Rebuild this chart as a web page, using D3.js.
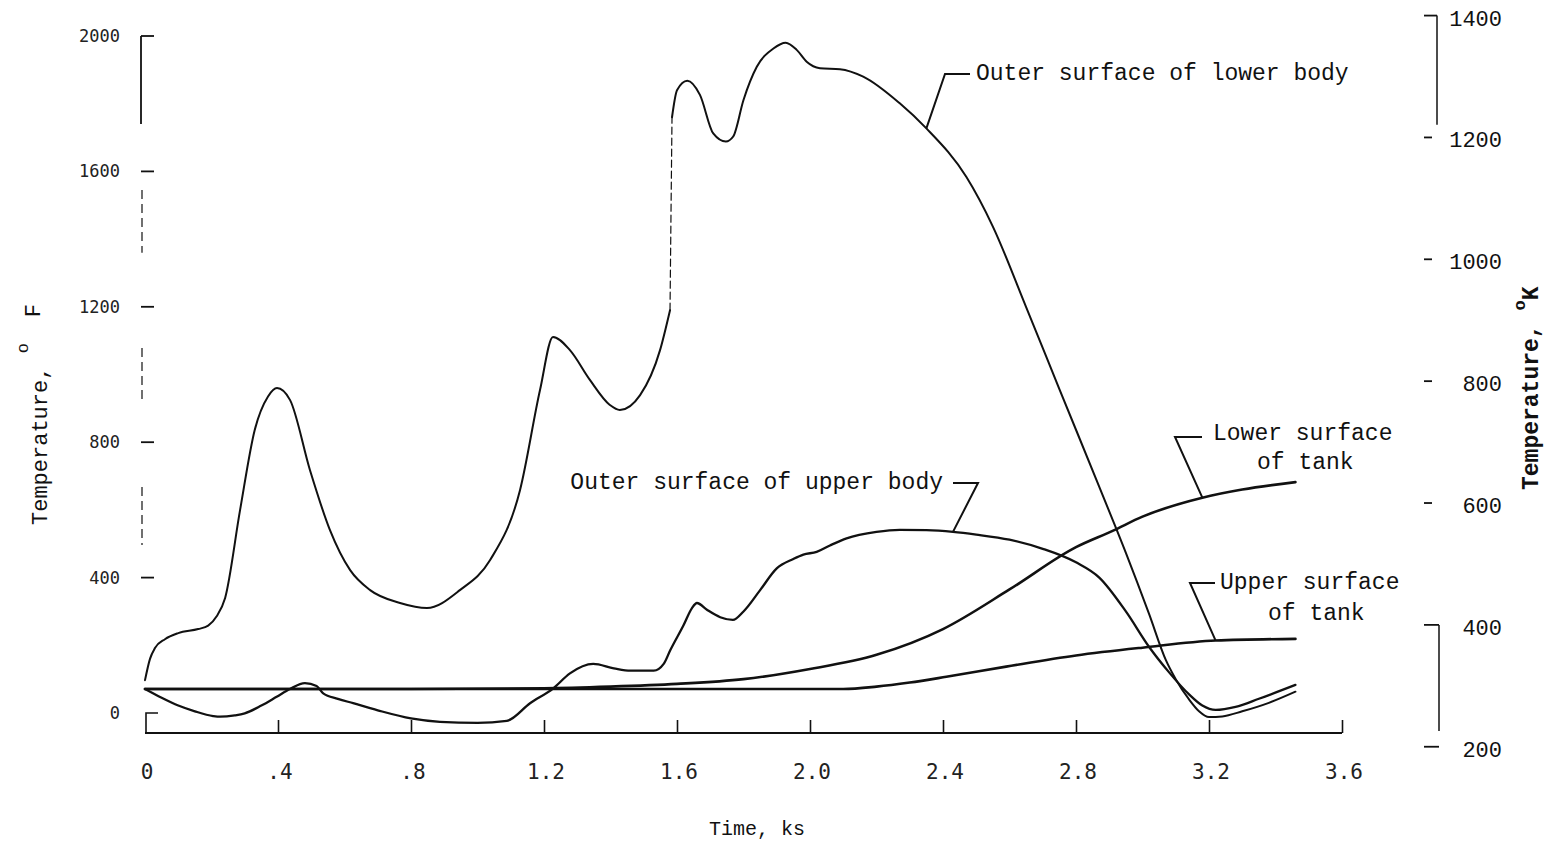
<!DOCTYPE html>
<html>
<head>
<meta charset="utf-8">
<script src="https://cdn.jsdelivr.net/npm/d3@7/dist/d3.min.js"></script>
<style>
  html, body { margin: 0; padding: 0; background: #fff; }
  svg { display: block; }
</style>
</head>
<body>
<svg id="chart" width="1552" height="846"></svg>
<script>
// Axis ticks
const timeTicks = [0, 0.4, 0.8, 1.2, 1.6, 2.0, 2.4, 2.8, 3.2, 3.6];
const timeTickLabels = ["0", ".4", ".8", "1.2", "1.6", "2.0", "2.4", "2.8", "3.2", "3.6"];
const fahrenheitTicks = [0, 400, 800, 1200, 1600, 2000];
const kelvinTicks = [200, 400, 600, 800, 1000, 1200, 1400];

// Temperature histories: [time (ks), temperature (°F)]
const outerLowerBody = [
  [0, 97], [0.015, 160], [0.03, 192], [0.06, 218], [0.10, 236], [0.16, 248], [0.19, 258],
  [0.215, 285], [0.241, 340], [0.286, 600], [0.33, 836], [0.37, 935], [0.397, 960],
  [0.436, 925], [0.496, 718], [0.556, 541], [0.617, 422], [0.677, 363], [0.767, 325],
  [0.848, 310], [0.947, 363], [1.038, 452], [1.128, 659], [1.188, 954], [1.227, 1111],
  [1.278, 1072], [1.338, 984], [1.398, 910], [1.428, 895], [1.489, 939], [1.549, 1072],
  [1.579, 1190], [1.582, 1480], [1.585, 1760], [1.60, 1840], [1.631, 1868],
  [1.669, 1826], [1.709, 1712], [1.747, 1688], [1.769, 1703], [1.80, 1811], [1.84, 1909],
  [1.89, 1963], [1.927, 1980], [1.96, 1959], [1.99, 1924], [2.03, 1905], [2.09, 1902],
  [2.16, 1880], [2.27, 1801], [2.35, 1727], [2.47, 1584], [2.55, 1437], [2.65, 1199],
  [2.75, 957], [2.87, 668], [2.95, 473], [3.02, 292], [3.07, 157], [3.10, 100],
  [3.14, 40], [3.17, 5], [3.20, -12], [3.24, -10], [3.30, 5], [3.38, 30], [3.46, 63]
];
const outerUpperBody = [
  [0, 71], [0.05, 45], [0.10, 22], [0.15, 5], [0.205, -9], [0.226, -11], [0.27, -7],
  [0.30, -1], [0.35, 22], [0.396, 48], [0.436, 71], [0.481, 88], [0.516, 80], [0.536, 58],
  [0.58, 42], [0.626, 29], [0.70, 8], [0.80, -16], [0.887, -26], [1.0, -29], [1.088, -23],
  [1.158, 29], [1.228, 73], [1.278, 117], [1.348, 145], [1.41, 132], [1.46, 125],
  [1.53, 125], [1.56, 145], [1.58, 186], [1.62, 260], [1.645, 310], [1.66, 325],
  [1.69, 305], [1.73, 283], [1.768, 275], [1.80, 300], [1.85, 363], [1.90, 427],
  [1.95, 455], [1.98, 468], [2.02, 476], [2.06, 495], [2.11, 516], [2.20, 535],
  [2.27, 541], [2.35, 540], [2.43, 535], [2.50, 527], [2.60, 512], [2.70, 485],
  [2.80, 445], [2.87, 400], [2.95, 300], [3.02, 195], [3.08, 120], [3.14, 55],
  [3.18, 22], [3.22, 9], [3.28, 18], [3.35, 42], [3.46, 83]
];
const lowerSurfaceTank = [
  [0, 71], [0.4, 71], [0.8, 71], [1.2, 73], [1.4, 78], [1.6, 86], [1.8, 100], [2.0, 130],
  [2.2, 172], [2.4, 248], [2.6, 365], [2.8, 490], [2.91, 538], [3.0, 580], [3.18, 636],
  [3.3, 660], [3.46, 682]
];
const upperSurfaceTank = [
  [0, 71], [0.8, 71], [1.6, 71], [2.1, 71], [2.2, 78], [2.3, 90], [2.41, 107],
  [2.59, 137], [2.8, 170], [3.0, 193], [3.22, 214], [3.46, 219]
];

// Callout labels: text lines and the point on the curve the leader touches
const calloutLabels = [
  ["Outer surface of lower body"],
  ["Outer surface of upper body"],
  ["Lower surface", "of tank"],
  ["Upper surface", "of tank"]
];
const calloutAnchors = [[2.35, 1727], [2.43, 535], [3.18, 636], [3.22, 214]];

const svg = d3.select("#chart");
const ink = "#111";
const serifMono = "'Liberation Mono', 'Courier New', monospace";
const sansMono = "'DejaVu Sans Mono', monospace";

const x = d3.scaleLinear().domain([0, 3.6]).range([145, 1342]);
const y = d3.scaleLinear().domain([0, 2000]).range([713, 36]);
const kToF = k => (k - 273.15) * 1.8 + 32;
const yK = k => y(kToF(k));

const axisY = 733;

// ---- Bottom axis ----
const xAxis = d3.axisBottom(x)
  .tickValues(timeTicks.slice(1))
  .tickSize(-13)
  .tickFormat("");
const gx = svg.append("g").attr("transform", `translate(0,${axisY})`).call(xAxis);
gx.select(".domain").remove();
gx.selectAll(".tick line").attr("stroke", ink).attr("stroke-width", 1.6);
svg.append("line")
  .attr("x1", x(0)).attr("x2", x(3.6)).attr("y1", axisY).attr("y2", axisY)
  .attr("stroke", ink).attr("stroke-width", 2.2);

svg.append("g").selectAll("text").data(timeTicks).join("text")
  .attr("x", d => x(d) + 2)
  .attr("y", 779)
  .attr("text-anchor", "middle")
  .attr("font-family", sansMono)
  .attr("font-size", 21)
  .attr("fill", "#222")
  .text((d, i) => timeTickLabels[i]);

svg.append("text")
  .attr("x", 757).attr("y", 835)
  .attr("text-anchor", "middle")
  .attr("font-family", serifMono)
  .attr("font-size", 20)
  .attr("fill", ink)
  .text("Time, ks");

// ---- Left axis (°F), drawn as a broken spine ----
const leftSpineX = 141;
const spineSolid = [[2000, 1740]];
const spineDashed = [[1545, 1360], [1078, 925], [668, 496]];
svg.append("g").selectAll("line").data(spineSolid).join("line")
  .attr("x1", leftSpineX).attr("x2", leftSpineX)
  .attr("y1", d => y(d[0])).attr("y2", d => y(d[1]))
  .attr("stroke", ink).attr("stroke-width", 1.8);
svg.append("g").selectAll("line").data(spineDashed).join("line")
  .attr("x1", leftSpineX + 1).attr("x2", leftSpineX + 1)
  .attr("y1", d => y(d[0])).attr("y2", d => y(d[1]))
  .attr("stroke", ink).attr("stroke-width", 1.2)
  .attr("stroke-dasharray", "9,5");
// corner bracket at zero
svg.append("path")
  .attr("d", `M${x(0) + 13},${y(0)} H${x(0) + 1} V${axisY}`)
  .attr("fill", "none").attr("stroke", ink).attr("stroke-width", 1.6);

svg.append("g").selectAll("line").data(fahrenheitTicks.slice(1)).join("line")
  .attr("x1", leftSpineX).attr("x2", leftSpineX + 13)
  .attr("y1", d => y(d)).attr("y2", d => y(d))
  .attr("stroke", ink).attr("stroke-width", 1.8);

svg.append("g").selectAll("text").data(fahrenheitTicks).join("text")
  .attr("x", 120)
  .attr("y", d => y(d) + 6)
  .attr("text-anchor", "end")
  .attr("font-family", sansMono)
  .attr("font-size", 17)
  .attr("fill", "#222")
  .text(d => d);

// rotated titles read bottom to top; the degree mark is a raised small "o"
const leftTitle = svg.append("text")
  .attr("transform", "translate(47,525) rotate(-90)")
  .attr("text-anchor", "start")
  .attr("font-family", serifMono)
  .attr("font-size", 22)
  .attr("fill", ink);
leftTitle.append("tspan").text("Temperature, ");
leftTitle.append("tspan").attr("dy", -19).attr("font-size", 17).text("o");
leftTitle.append("tspan").attr("dy", 12).attr("dx", 26).text("F");

// ---- Right axis (K) ----
const rightSpineX = 1437;
svg.append("line")
  .attr("x1", rightSpineX).attr("x2", rightSpineX)
  .attr("y1", yK(1400)).attr("y2", yK(1221))
  .attr("stroke", ink).attr("stroke-width", 1.5);
svg.append("line")
  .attr("x1", rightSpineX + 2).attr("x2", rightSpineX + 2)
  .attr("y1", yK(400)).attr("y2", yK(226))
  .attr("stroke", ink).attr("stroke-width", 1.5);
svg.append("g").selectAll("line").data(kelvinTicks).join("line")
  .attr("x1", rightSpineX - 13).attr("x2", d => (d <= 400 ? rightSpineX + 2 : d === 1400 ? rightSpineX : rightSpineX - 5))
  .attr("y1", d => yK(d)).attr("y2", d => yK(d))
  .attr("stroke", ink).attr("stroke-width", 1.8);
svg.append("g").selectAll("text").data(kelvinTicks).join("text")
  .attr("x", 1502)
  .attr("y", d => yK(d) + 10)
  .attr("text-anchor", "end")
  .attr("font-family", serifMono)
  .attr("font-size", 22)
  .attr("fill", ink)
  .text(d => d);

const rightTitle = svg.append("text")
  .attr("transform", "translate(1538,490) rotate(-90)")
  .attr("text-anchor", "start")
  .attr("font-family", serifMono)
  .attr("font-weight", "bold")
  .attr("font-size", 23)
  .attr("fill", ink);
rightTitle.append("tspan").text("Temperature, ");
rightTitle.append("tspan").attr("dy", -13).attr("font-size", 17).text("o");
rightTitle.append("tspan").attr("dy", 13).text("K");

// ---- Curves ----
const line = d3.line()
  .x(d => x(d[0]))
  .y(d => y(d[1]))
  .curve(d3.curveMonotoneX);

const curves = svg.append("g").attr("fill", "none").attr("stroke", ink)
  .attr("stroke-linejoin", "round").attr("stroke-linecap", "round");

curves.append("path").datum(upperSurfaceTank).attr("d", line).attr("stroke-width", 2.6);
curves.append("path").datum(lowerSurfaceTank).attr("d", line).attr("stroke-width", 2.6);
curves.append("path").datum(outerUpperBody).attr("d", line).attr("stroke-width", 2.3);

// Lower body: the near-vertical jump at about 1.58 ks is drawn lightly
const jumpStart = 1.579, jumpEnd = 1.585;
const lbBefore = outerLowerBody.filter(d => d[0] <= jumpStart);
const lbJump = outerLowerBody.filter(d => d[0] >= jumpStart && d[0] <= jumpEnd);
const lbAfter = outerLowerBody.filter(d => d[0] >= jumpEnd);
curves.append("path").datum(lbBefore).attr("d", line).attr("stroke-width", 2.0);
curves.append("path").datum(lbJump).attr("d", d3.line().x(d => x(d[0])).y(d => y(d[1])))
  .attr("stroke-width", 1.2).attr("stroke-dasharray", "7,4");
curves.append("path").datum(lbAfter).attr("d", line).attr("stroke-width", 2.0);

// ---- Callouts ----
const callG = svg.append("g");
function callout(i, elbow, barEnd, textX, textY, lineGap, anchor) {
  const a = calloutAnchors[i];
  const ax = x(a[0]), ay = y(a[1]);
  callG.append("path")
    .attr("d", `M${ax},${ay} L${elbow[0]},${elbow[1]} L${barEnd},${elbow[1]}`)
    .attr("fill", "none").attr("stroke", ink).attr("stroke-width", 2);
  calloutLabels[i].forEach((txt, k) => {
    callG.append("text")
      .attr("x", textX[k]).attr("y", textY + k * lineGap)
      .attr("text-anchor", anchor)
      .attr("font-family", serifMono)
      .attr("font-size", 23)
      .attr("fill", ink)
      .text(txt);
  });
}
callout(0, [945, 74], 970, [976], 80, 0, "start");
callout(1, [978, 483], 953, [943], 489, 0, "end");
callout(2, [1175, 437], 1202, [1213, 1257], 440, 29, "start");
callout(3, [1190, 583], 1215, [1220, 1268], 589, 31, "start");
</script>
</body>
</html>
